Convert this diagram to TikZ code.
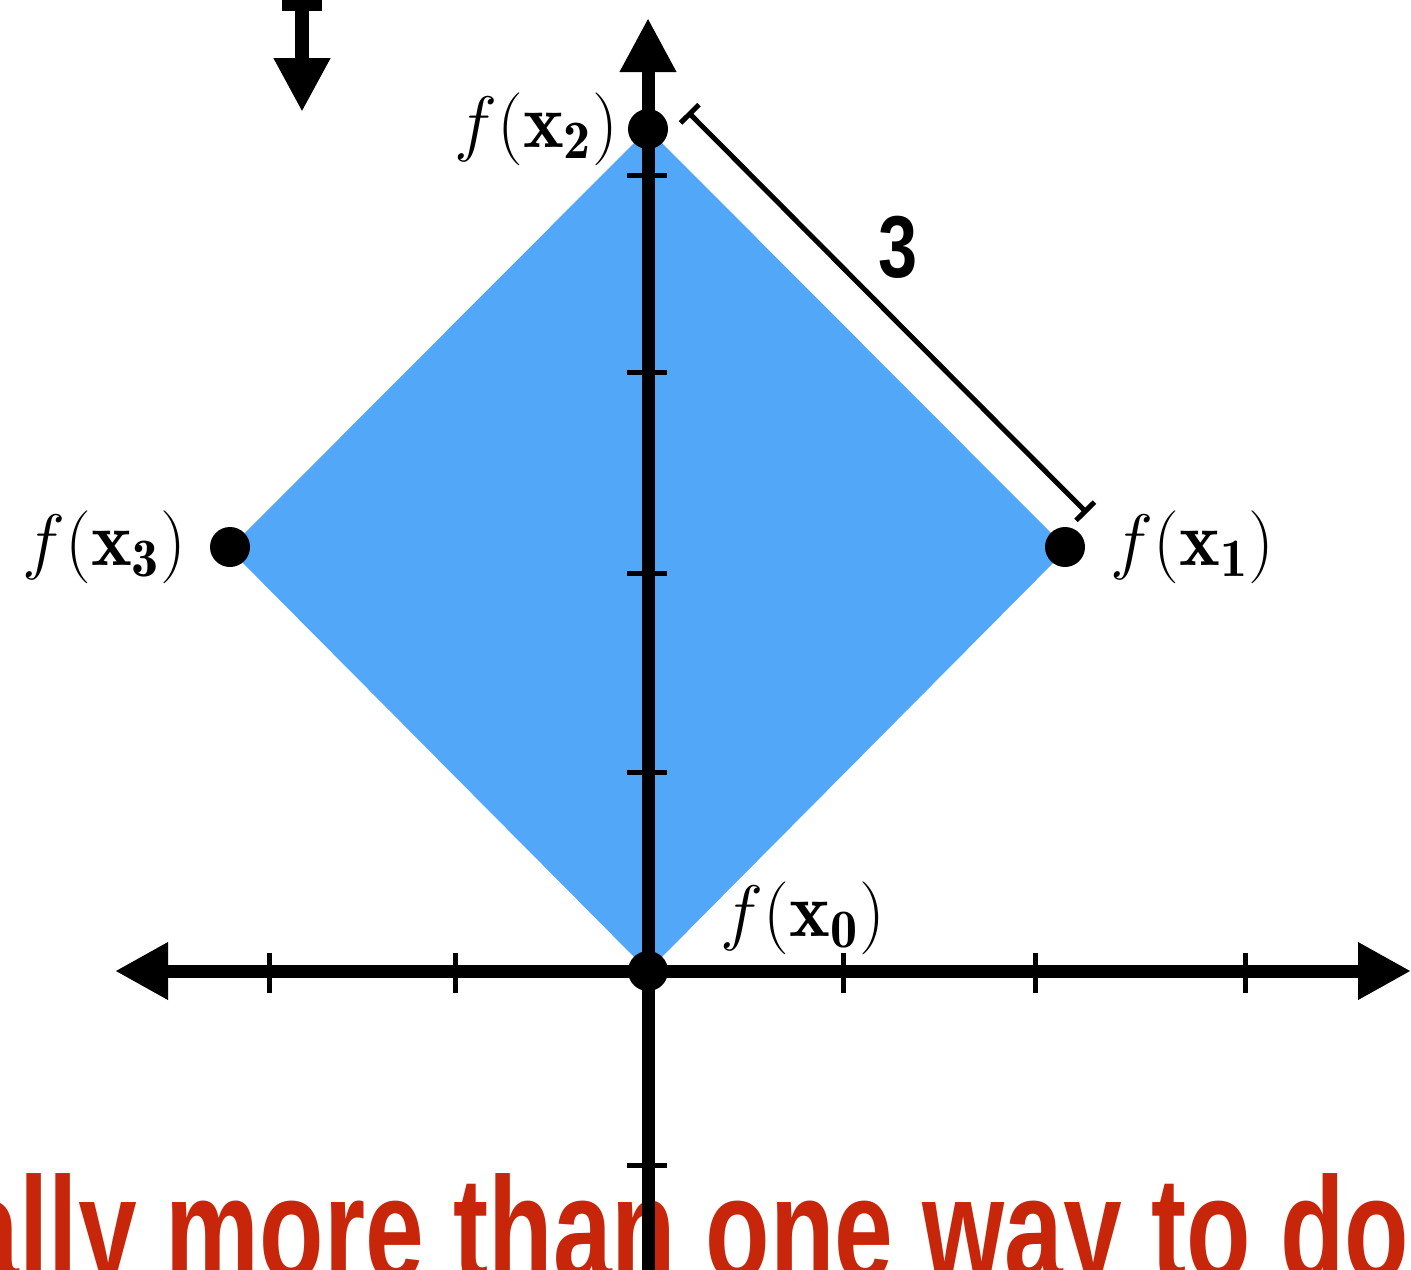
\documentclass[tikz,border=0pt]{standalone}
\usepackage{amsmath}
\usepackage{fontspec}
\usepackage{tikz}
\usetikzlibrary{arrows.meta, positioning, calc}
\newfontfamily\slidefont{Liberation Sans}
\definecolor{regionblue}{RGB}{83,167,248}
\definecolor{slidered}{RGB}{200,38,10}
\tikzset{
  axis/.style  = {line width=1.3mm,
                  {Triangle[length=5.3mm,width=5.4mm]}-{Triangle[length=5.3mm,width=5.4mm]}},
  yaxis/.style = {line width=1.3mm, -{Triangle[length=5.4mm,width=5.3mm]}},
  tk/.style    = {line width=0.5mm},
  pt/.style    = {circle, fill=black, minimum size=4mm, inner sep=0pt},
  lbl/.style   = {font=\fontsize{22}{26}\selectfont, inner sep=0pt},
  dim/.style   = {line width=0.5mm, {Bar[width=2.6mm]}-{Bar[width=2.6mm]}},
  dn/.style    = {line width=1.4mm, {Bar[width=4mm]}-{Triangle[length=5.4mm,width=5.3mm]}},
}

\begin{document}
\begin{tikzpicture}[x=0.1mm, y=-0.1mm]
  \useasboundingbox (0,0) rectangle (1411,1269);
  \clip (0,0) rectangle (1411,1269);
  % slide caption, cut off by the frame
  \node[anchor=base west, inner sep=0pt, text=slidered,
        font=\slidefont\bfseries\fontsize{42}{50}\selectfont] (cap) at (-40,1280)
        {\scalebox{0.715}[1]{ally more than one way to do}};
  % feasible region
  \coordinate (v0) at (648,971);
  \coordinate (v1) at (1067,549);
  \coordinate (v2) at (648,129);
  \coordinate (v3) at (229,549);
  \fill[regionblue] (v0) -- (v1) -- (v2) -- (v3) -- cycle;
  % axes
  \coordinate (xl) at (115,971);  \coordinate (xr) at (1411,971);
  \coordinate (yb) at (648,1300); \coordinate (yt) at (648,18);
  \draw[axis] (xl) -- (xr);
  \draw[yaxis] (yb) -- (yt);
  \foreach \x in {269,455,843,1035,1245}
    \draw[tk] (\x,953) -- (\x,993);
  \foreach \y in {175,372,573,772,1165}
    \draw[tk] (627,\y) -- (667,\y);
  % arrow coming in from above
  \coordinate (ta) at (302,-3); \coordinate (tb) at (302,112);
  \draw[dn] (ta) -- (tb);
  % points
  \node[pt] (p0) at (v0) {};
  \node[pt] (p1) at (1065,547) {};
  \node[pt] (p2) at (v2) {};
  \node[pt] (p3) at (230,547) {};
  \node[lbl, left=0.8mm of p2]  (l2) {$f(\mathbf{x_2})$};
  \node[lbl, right=2.4mm of p1] (l1) {$f(\mathbf{x_1})$};
  \node[lbl, left=2.2mm of p3]  (l3) {$f(\mathbf{x_3})$};
  \node[lbl, anchor=west] (l0) at (720,918) {$f(\mathbf{x_0})$};
  % side length
  \coordinate (d2) at (688,112); \coordinate (d1) at (1087,513);
  \draw[dim] (d2) -- (d1);
  \node[inner sep=0pt, font=\slidefont\bfseries\fontsize{25}{30}\selectfont] (len) at (898,247)
       {\scalebox{0.8}[1]{3}};
\end{tikzpicture}
\end{document}
